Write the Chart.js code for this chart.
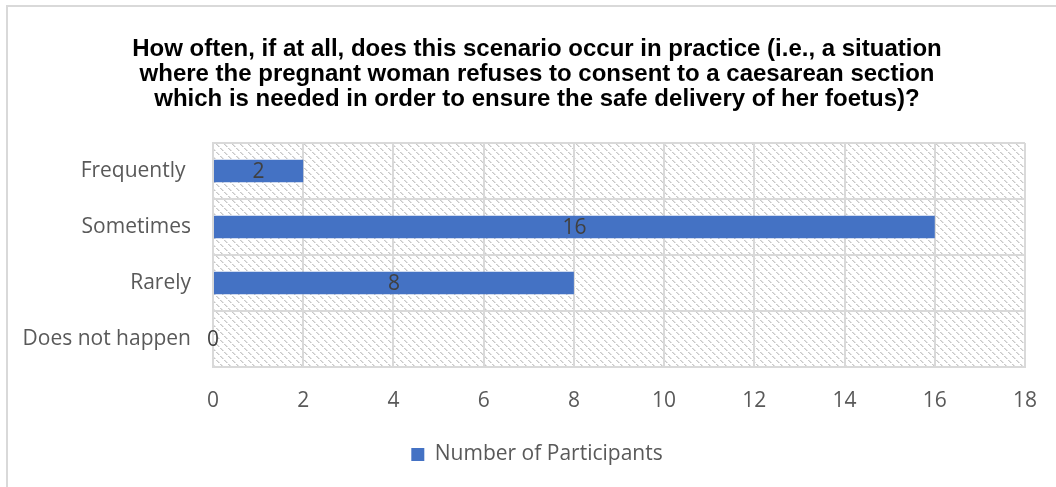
<!DOCTYPE html>
<html>
<head>
<meta charset="utf-8">
<script src="https://cdn.jsdelivr.net/npm/chart.js@4.4.1/dist/chart.umd.min.js"></script>
<style>
  html, body { margin: 0; padding: 0; background: #ffffff; }
  #wrap { position: relative; width: 1056px; height: 487px; }
</style>
</head>
<body>
<div id="wrap"><canvas id="chart" width="1056" height="487"></canvas></div>
<script>
// Survey answers, top to bottom
const categories = ['Frequently ', 'Sometimes', 'Rarely', 'Does not happen'];
const participants = [2, 16, 8, 0];
const seriesName = 'Number of Participants';
const xTicks = [0, 2, 4, 6, 8, 10, 12, 14, 16, 18];
const titleLines = [
  'How often, if at all, does this scenario occur in practice (i.e., a situation',
  'where the pregnant woman refuses to consent to a caesarean section',
  'which is needed in order to ensure the safe delivery of her foetus)?'
];

const BAR = '#4472C4';
const GRID = '#d9d9d9';
const TEXT = '#595959';
const LABEL_FONT = '"Open Sans", "Noto Sans", sans-serif';
const LABEL_SIZE = 21;

// Diagonal hatch tile for the plot background
function makeHatch() {
  const n = 8;
  const t = document.createElement('canvas');
  t.width = n; t.height = n;
  const c = t.getContext('2d');
  c.fillStyle = '#ffffff';
  c.fillRect(0, 0, n, n);
  for (let i = 0; i < n; i++) {
    if (i % 4 === 3) continue;
    c.fillStyle = '#c8c8c8';
    c.fillRect(i, i, 1, 1);
    c.fillStyle = '#e2e2e2';
    c.fillRect((i + 1) % n, i, 1, 1);
  }
  return c.createPattern(t, 'repeat');
}

const frame = {
  id: 'frame',
  beforeDraw(chart) {
    const { ctx, chartArea: a } = chart;
    ctx.save();
    ctx.fillStyle = makeHatch();
    ctx.fillRect(a.left, a.top, a.right - a.left, a.bottom - a.top);
    ctx.strokeStyle = GRID;
    ctx.lineWidth = 2;
    ctx.beginPath();
    ctx.moveTo(7, chart.height);
    ctx.lineTo(7, 6);
    ctx.lineTo(chart.width, 6);
    ctx.stroke();
    ctx.restore();
  }
};

const valueLabels = {
  id: 'valueLabels',
  afterDatasetsDraw(chart) {
    const { ctx } = chart;
    const meta = chart.getDatasetMeta(0);
    ctx.save();
    ctx.font = LABEL_SIZE + 'px ' + LABEL_FONT;
    ctx.fillStyle = '#404040';
    ctx.textAlign = 'center';
    ctx.textBaseline = 'middle';
    meta.data.forEach((bar, i) => {
      const cx = (bar.x + bar.base) / 2;
      ctx.fillText(String(chart.data.datasets[0].data[i]), cx, bar.y + 1);
    });
    ctx.restore();
  }
};

new Chart(document.getElementById('chart'), {
  type: 'bar',
  data: {
    labels: categories,
    datasets: [{
      label: seriesName,
      data: participants,
      backgroundColor: BAR,
      borderWidth: 0,
      categoryPercentage: 1,
      barPercentage: 0.4
    }]
  },
  options: {
    indexAxis: 'y',
    responsive: false,
    animation: false,
    devicePixelRatio: 1,
    layout: { padding: { left: 18, right: 0, top: 12, bottom: 12 } },
    scales: {
      x: {
        min: 0, max: 18,
        afterBuildTicks(scale) { scale.ticks = xTicks.map(v => ({ value: v })); },
        grid: { color: GRID, lineWidth: 2, drawTicks: false },
        border: { color: GRID, width: 2 },
        ticks: { color: TEXT, font: { family: LABEL_FONT, size: LABEL_SIZE }, padding: 21 },
        afterFit(scale) { scale.height = 67; scale.paddingRight = 31; }
      },
      y: {
        grid: { color: GRID, lineWidth: 2, drawTicks: false },
        border: { color: GRID, width: 2 },
        ticks: { color: TEXT, font: { family: LABEL_FONT, size: LABEL_SIZE }, padding: 22 },
        afterFit(scale) { scale.width = 195; }
      }
    },
    plugins: {
      tooltip: { enabled: false },
      title: {
        display: true,
        text: titleLines,
        color: '#000000',
        font: { family: '"Liberation Sans", Arial, sans-serif', size: 24, weight: 'bold', lineHeight: 25 / 24 },
        padding: { top: 25, bottom: 31 }
      },
      legend: {
        position: 'bottom',
        labels: {
          color: TEXT,
          font: { family: LABEL_FONT, size: LABEL_SIZE },
          boxWidth: 13, boxHeight: 13,
          padding: 10
        }
      }
    }
  },
  plugins: [frame, valueLabels]
});
</script>
</body>
</html>
